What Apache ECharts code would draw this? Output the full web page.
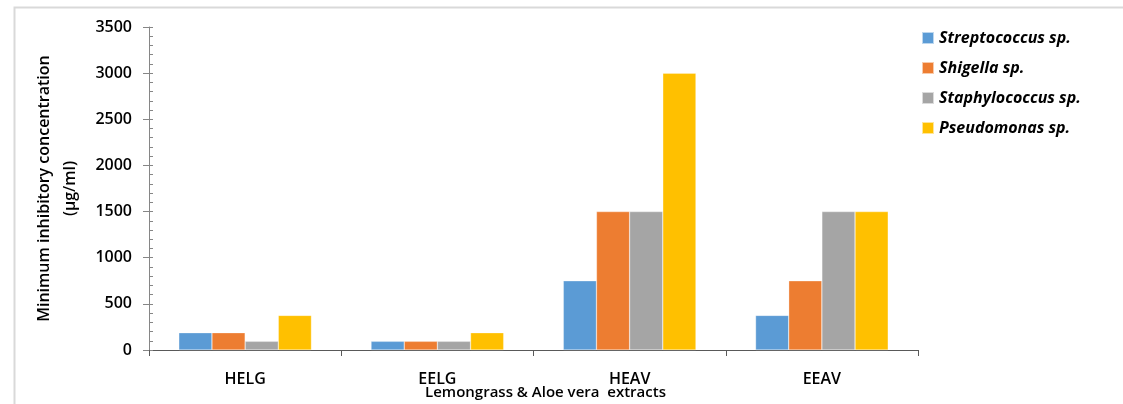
<!DOCTYPE html>
<html>
<head>
<meta charset="utf-8">
<script src="https://cdn.jsdelivr.net/npm/echarts@6/dist/echarts.min.js"></script>
<style>html,body{margin:0;padding:0;background:#fff;overflow:hidden;}#c{width:1123px;height:404px;}</style>
</head>
<body>
<div id="c"></div>
<script>
const categories = ['HELG', 'EELG', 'HEAV', 'EEAV'];
const seriesNames = ['Streptococcus sp.', 'Shigella sp.', 'Staphylococcus sp.', 'Pseudomonas sp.'];
const streptococcus = [187.5, 93.75, 750, 375];
const shigella = [187.5, 93.75, 1500, 750];
const staphylococcus = [93.75, 93.75, 1500, 1500];
const pseudomonas = [375, 187.5, 3000, 1500];
const colors = ['#5B9BD5', '#ED7D31', '#A5A5A5', '#FFC000'];
const yTitle = 'Minimum inhibitory concentration\n(µg/ml)';
const xTitle = 'Lemongrass & Aloe vera  extracts';

const values = [streptococcus, shigella, staphylococcus, pseudomonas];
const FONT = 'Open Sans';

const chart = echarts.init(document.getElementById('c'));
chart.setOption({
  animation: false,
  backgroundColor: '#fff',
  graphic: [{
    type: 'rect', left: 12, top: 5, silent: true,
    shape: { x: 0, y: 0, width: 1200, height: 500 },
    style: { fill: 'none', stroke: '#d9d9d9', lineWidth: 2 }
  }],
  grid: { left: 149, right: 205, top: 27, bottom: 54, containLabel: false, outerBoundsMode: 'none' },
  legend: {
    orient: 'vertical', left: 921, top: 30, padding: 0,
    itemWidth: 12, itemHeight: 12, itemGap: 14, icon: 'rect',
    textStyle: { fontFamily: FONT, fontSize: 16, fontStyle: 'italic', fontWeight: 'bold', color: '#000', lineHeight: 15 },
    data: seriesNames
  },
  xAxis: {
    type: 'category', data: categories,
    axisLine: { lineStyle: { color: '#595959', width: 1 } },
    axisTick: { show: true, length: 6, alignWithLabel: false, lineStyle: { color: '#595959' } },
    axisLabel: { fontFamily: FONT, fontSize: 16, fontWeight: 600, color: '#000', margin: 21 },
    name: xTitle, nameLocation: 'middle', nameGap: 35, nameMoveOverlap: false,
    nameTextStyle: { fontFamily: FONT, fontSize: 15, fontWeight: 600, color: '#000', padding: [0, 0, 0, 24] }
  },
  yAxis: [{
    type: 'value', min: 0, max: 3500, interval: 500,
    axisLine: { show: true, lineStyle: { color: '#868686' } },
    axisTick: { show: true, length: 6, lineStyle: { color: '#868686' } },
    axisLabel: { fontFamily: FONT, fontSize: 16, fontWeight: 600, color: '#000', margin: 17, formatter: v => String(v) },
    splitLine: { show: false },
    name: yTitle, nameLocation: 'middle', nameGap: 66, nameRotate: 90, nameMoveOverlap: false,
    nameTextStyle: { fontFamily: FONT, fontSize: 16, fontWeight: 600, color: '#000', lineHeight: 26 }
  }, {
    type: 'value', min: 0, max: 3500, interval: 500, position: 'left', offset: 0,
    axisLine: { show: false },
    axisTick: { show: true, inside: true, length: 4, lineStyle: { color: '#868686' } },
    minorTick: { show: true, splitNumber: 5, length: 4, lineStyle: { color: '#868686' } },
    axisLabel: { show: false }, splitLine: { show: false }
  }],
  series: seriesNames.map((n, i) => ({
    name: n, type: 'bar', data: values[i], yAxisIndex: 0,
    barGap: '0%', barCategoryGap: '31%',
    itemStyle: { color: colors[i], borderColor: 'rgba(255,255,255,0.6)', borderWidth: 0.5 }
  }))
});
</script>
</body>
</html>
